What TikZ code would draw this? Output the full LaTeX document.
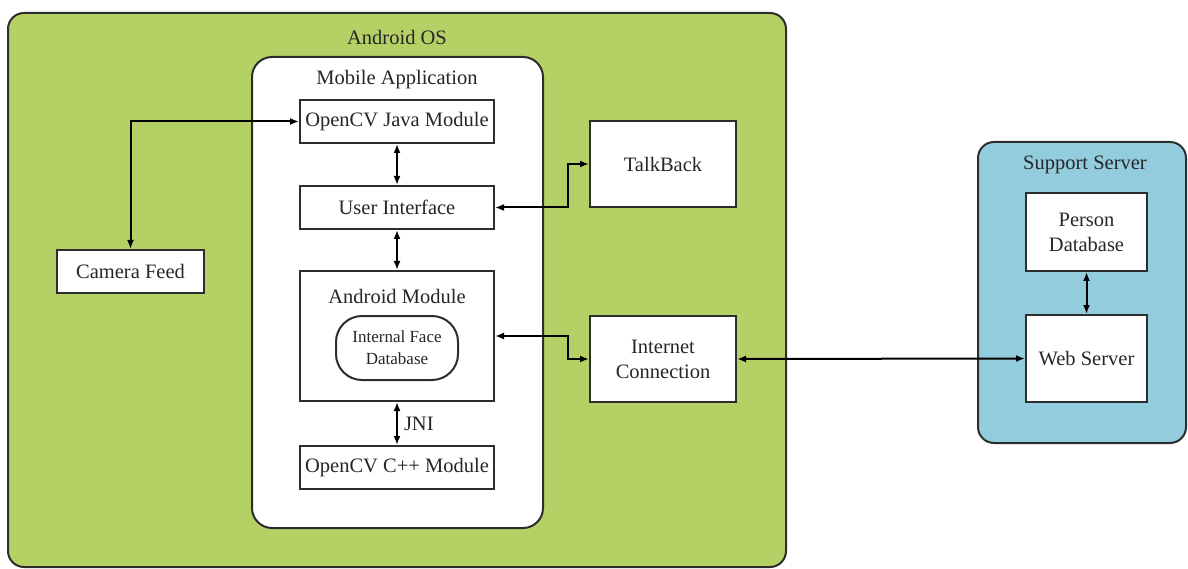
\documentclass[tikz,border=0pt]{standalone}
\usepackage{fontspec}
\setmainfont{Liberation Serif}
\newfontfamily\tms{Liberation Serif}
\usetikzlibrary{arrows.meta,positioning}
\definecolor{osgreen}{RGB}{181,209,101}
\definecolor{srvblue}{RGB}{147,205,221}
\definecolor{edge}{RGB}{45,45,45}
\begin{document}
\begin{tikzpicture}[x=1pt,y=-1pt,
  container/.style={draw=edge,line width=2pt,rounded corners=16pt},
  blk/.style={draw=edge,line width=2pt,fill=white,inner sep=0pt,
    font=\tms\fontsize{20.5}{25}\selectfont,align=center,text=black!85},
  lbl/.style={font=\tms\fontsize{20.5}{25}\selectfont,text=black!85,inner sep=0pt},
  conn/.style={draw=black,line width=2pt,{Latex[length=9pt,width=7pt]}-{Latex[length=9pt,width=7pt]}}]
\useasboundingbox (0,0) rectangle (1188,569);
% containers
\draw[container,fill=osgreen] (8,13) rectangle (786,567);
\node[lbl] (oslbl) at (397,37) {Android OS};
\draw[container,fill=white,rounded corners=20pt] (252,57) rectangle (543,528);
\node[lbl] (malbl) at (397,80) {Mobile Application};
\draw[container,fill=srvblue] (978,142) rectangle (1186,443);
\node[lbl] (sslbl) at (1085,165) {Support Server};
% blocks
\node[blk,minimum width=194pt,minimum height=43pt] (ocj) at (397,121.5) {OpenCV Java Module};
\node[blk,minimum width=194pt,minimum height=43pt] (ui) at (397,207.5) {User Interface};
\node[blk,minimum width=194pt,minimum height=130pt] (am) at (397,336) {};
\node[lbl] (amlbl) at (397,296) {Android Module};
\node[draw=edge,line width=2pt,rounded corners=26pt,minimum width=122pt,minimum height=64pt,
  align=center,font=\tms\fontsize{17}{22}\selectfont,text=black!85,inner sep=0pt] (ifd) at (397,348) {Internal Face\\Database};
\node[blk,minimum width=194pt,minimum height=43pt] (ocpp) at (397,467.5) {OpenCV C++ Module};
\node[blk,minimum width=147pt,minimum height=43pt] (cf) at (130.5,271.5) {Camera Feed};
\node[blk,minimum width=146pt,minimum height=86pt] (tb) at (663,164) {TalkBack};
\node[blk,minimum width=146pt,minimum height=86pt] (ic) at (663,359) {Internet\\Connection};
\node[blk,minimum width=121pt,minimum height=78pt] (pdb) at (1086.5,232) {Person\\Database};
\node[blk,minimum width=121pt,minimum height=87pt] (ws) at (1086.5,358.5) {Web Server};
% connectors
\draw[conn] (cf.north) |- (ocj.west);
\draw[conn] (ocj.south) -- (ui.north);
\draw[conn] (ui.south) -- (am.north);
\draw[conn] (am.south) -- node[lbl,right=6pt] (jni) {JNI} (ocpp.north);
\draw[conn] (ui.east) -- ++(73,0) |- (tb.west);
\draw[conn] (am.east) -- ++(73,0) |- (ic.west);
\draw[conn] (ic.east) -- (ws.west);
\draw[conn] (pdb.south) -- (ws.north);
\end{tikzpicture}
\end{document}
